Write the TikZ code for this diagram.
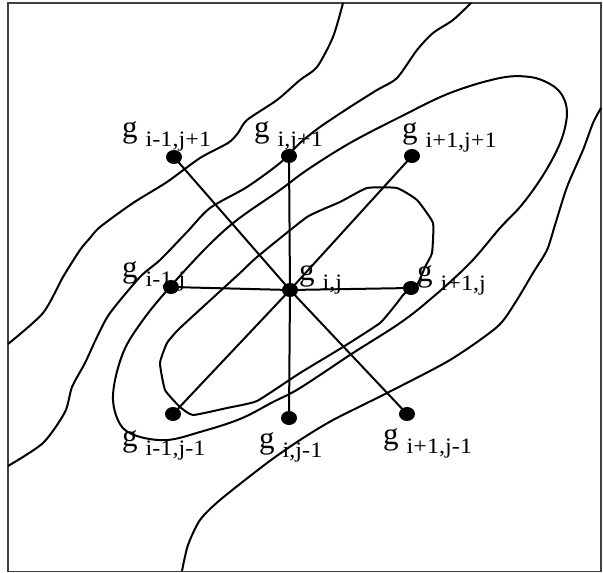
\documentclass[tikz,border=0pt]{standalone}
\usepackage{fontspec}
\setmainfont{Liberation Serif}
\usetikzlibrary{shapes.geometric}
\newcommand{\gsz}{\fontsize{31}{31}\selectfont}
\newcommand{\ssz}{\fontsize{22}{22}\selectfont}
\newcommand{\glab}[1]{{\gsz g}\hspace{8pt}\raisebox{-9pt}{\scalebox{1.1}[1]{\ssz #1}}}
\tikzset{
  dot/.style={ellipse, fill=black, minimum width=16pt, minimum height=14pt, inner sep=0pt},
  conn/.style={line width=2pt},
  contour/.style={line width=2pt, line join=round},
  lbl/.style={anchor=base west, inner sep=0pt},
}
\begin{document}
\begin{tikzpicture}[x=1pt,y=-1pt]
\useasboundingbox (0,0) rectangle (603,573);
\draw[line width=1.5pt, black!75] (8,3) rectangle (601,571.5);

% contour A
\draw[contour] plot[smooth, tension=0.45] coordinates {(343,3) (333,37) (317,67) (300,80) (277,100) (247,120) (238,133) (228,143) (200,158) (167,182) (133,203) (100,227) (90,238) (80,250) (63,277) (43,313) (8,344)};
% contour B
\draw[contour] plot[smooth, tension=0.45] coordinates {(471,3) (453,20) (433,33) (417,50) (397,78) (377,90) (350,107) (320,127) (300,143) (280,163) (247,187) (210,208) (187,232) (160,260) (140,277) (110,313) (97,337) (85,363) (72,387) (65,412) (43,443) (8,466)};
% contour C (ellipse)
\draw[contour] plot[smooth cycle, tension=0.6] coordinates {(113,395) (123,353) (143,320) (170,287) (207,247) (237,220) (280,190) (307,170) (350,143) (400,117) (450,93) (500,78) (530,77) (550,84) (562,95) (567,112) (563,135) (553,158) (538,183) (520,207) (500,228) (470,263) (433,297) (400,323) (353,353) (300,388) (273,402) (240,419) (200,432) (167,440) (137,436) (120,424)};
% contour D (inner loop)
\draw[contour] plot[smooth cycle, tension=0.25] coordinates {(367,188) (397,188) (417,200) (433,223) (432,253) (425,267) (418,283) (404,294) (397,303) (380,323) (343,347) (300,373) (257,401) (227,408) (193,415) (180,407) (165,390) (160,363) (167,343) (180,328) (240,273) (257,257) (307,217) (340,202)};
% contour E
\draw[contour] plot[smooth, tension=0.45] coordinates {(601,108) (593,123) (583,150) (567,187) (555,225) (547,250) (533,273) (515,303) (497,327) (450,360) (387,393) (333,420) (300,440) (267,463) (220,500) (200,520) (188,545) (182,571)};

% grid points
\node[dot] (nw) at (174,157) {};
\node[dot] (n)  at (289,156) {};
\node[dot] (ne) at (412,156) {};
\node[dot] (w)  at (171,287) {};
\node[dot] (c)  at (290,290) {};
\node[dot] (e)  at (411,288) {};
\node[dot] (sw) at (173,414) {};
\node[dot] (s)  at (289,418) {};
\node[dot] (se) at (407,414) {};

\foreach \t in {nw,n,ne,w,e,sw,s,se} \draw[conn] (c.center) -- (\t.center);

% labels
\node[lbl] (lnw) at (122,137) {\glab{i-1,j+1}};
\node[lbl] (ln)  at (254,137) {\glab{i,j+1}};
\node[lbl] (lne) at (402,138) {\glab{i+1,j+1}};
\node[lbl] (lw)  at (122,277) {\glab{i-1,j}};
\node[lbl] (lc)  at (299,280) {\glab{i,j}};
\node[lbl] (le)  at (417,281) {\glab{i+1,j}};
\node[lbl] (lsw) at (122,446) {\glab{i-1,j-1}};
\node[lbl] (ls)  at (259,448) {\glab{i,j-1}};
\node[lbl] (lse) at (383,444) {\glab{i+1,j-1}};
\end{tikzpicture}
\end{document}
